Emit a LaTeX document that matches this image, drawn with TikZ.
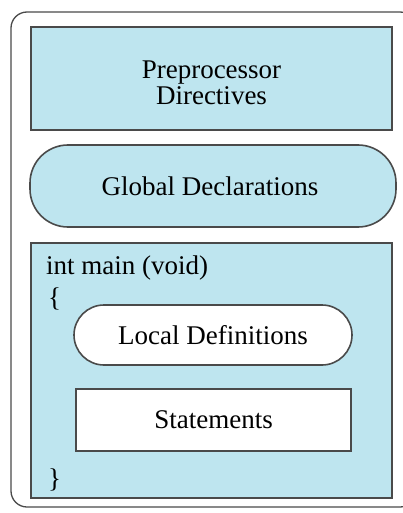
\documentclass[tikz,border=0pt]{standalone}
\usepackage{fontspec}
\setmainfont{Liberation Serif}
\definecolor{paleblue}{HTML}{BEE5EF}
\definecolor{edgegray}{HTML}{4A4A4A}
\begin{document}
\begin{tikzpicture}[x=1pt,y=-1pt,
  frame/.style={draw=edgegray, line width=1.6pt},
  bluebox/.style={frame, fill=paleblue},
  whitebox/.style={frame, fill=white},
  lbl/.style={font=\fontsize{27}{31}\selectfont, align=center, text=black},
  code/.style={font=\fontsize{27}{31}\selectfont, anchor=base west, text=black, inner sep=0pt}]
  \useasboundingbox (0,0) rectangle (402,513);
  % outer program frame
  \draw[frame, line width=1.3pt, rounded corners=16pt] (11,12) rectangle (416,507);
  % preprocessor section
  \draw[bluebox] (31,27) rectangle (392,130);
  \node[lbl] (pre) at (211.5,83) {Preprocessor\\[-5pt]Directives};
  % global declarations
  \draw[bluebox, rounded corners=38pt] (30,145) rectangle (396,227);
  \node[lbl] (glob) at (210,186) {Global Declarations};
  % main function
  \draw[bluebox] (31,243) rectangle (392,498);
  \node[code] (sig) at (46,274) {int main (void)};
  \node[code] (lb) at (48,306) {\{};
  \node[code] (rb) at (48,487) {\}};
  \draw[whitebox, rounded corners=30pt] (74,305) rectangle (352,365);
  \node[lbl] (loc) at (213,335) {Local Definitions};
  \draw[whitebox] (76,389) rectangle (351,451);
  \node[lbl] (stmt) at (213.5,420) {Statements};
\end{tikzpicture}
\end{document}
